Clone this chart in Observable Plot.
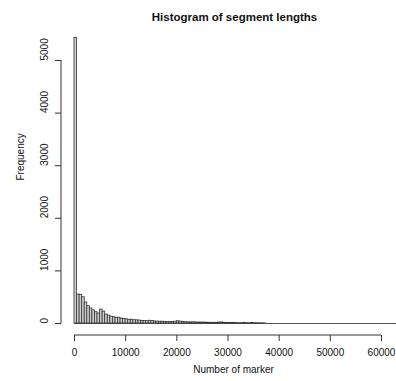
<!DOCTYPE html>
<html><head><meta charset="utf-8">
<script src="https://cdn.jsdelivr.net/npm/d3@7"></script>
<script src="https://cdn.jsdelivr.net/npm/@observablehq/plot@0.6"></script>
<style>body{margin:0;background:#fff} svg{display:block}</style>
</head><body><div id="chart"></div>
<script>
const title = "Histogram of segment lengths";
const xLabel = "Number of marker";
const yLabel = "Frequency";
const binWidth = 500;
const counts = [
  5430, 550, 545, 500, 400, 330, 285, 250, 215, 190,
  265, 225, 170, 150, 130, 120, 105, 110, 92, 85,
  78, 70, 72, 62, 60, 56, 50, 48, 44, 52,
  46, 38, 36, 33, 34, 30, 28, 26, 30, 34,
  44, 36, 28, 24, 22, 20, 24, 19, 18, 16,
  18, 15, 14, 13, 12, 13, 16, 20, 14, 11,
  10, 9, 8, 7, 6, 6, 10, 6, 4, 8,
  5, 4, 3, 2, 1, 0, 0, 0, 0, 0,
  0, 0, 0, 0, 0, 0, 0, 0, 0, 0,
  0, 0, 0, 0, 0, 0, 0, 0, 0, 0,
  0, 0, 0, 0, 0, 0, 0, 0, 0, 0,
  0, 0, 0, 0, 0, 0, 0, 0, 0, 0,
  0, 0, 0, 0, 0, 0, 1
];
const xTicks = [0, 10000, 20000, 30000, 40000, 50000, 60000];
const yTicks = [0, 1000, 2000, 3000, 4000, 5000];

const bins = counts.map((c, i) => ({x0: i * binWidth, x1: (i + 1) * binWidth, count: c}));
const lastEdge = bins[bins.length - 1].x1;

const W = 396, H = 381;
const mL = 61, mR = 0, mT = 0, mB = 46;
const font = "'Liberation Sans', Arial, Helvetica, sans-serif";
const ink = "#111111";

const chart = Plot.plot({
  width: W, height: H,
  marginLeft: mL, marginRight: mR, marginTop: mT, marginBottom: mB,
  style: {fontFamily: font, fontSize: "10px", color: ink, background: "#fff", overflow: "hidden"},
  x: {domain: [0, 60000], range: [74, 381]},
  y: {domain: [0, 5000], range: [323, 60]},
  marks: [
    Plot.ruleY([0], {x1: 0, x2: lastEdge, stroke: "#555", strokeWidth: 1}),
    Plot.rectY(bins.filter(d => d.count > 0), {x1: "x0", x2: "x1", y: "count", fill: "#cfcfcf", stroke: "#333", strokeWidth: 0.8, inset: 0}),
    Plot.axisX({ticks: xTicks, tickSize: 6, tickPadding: 7, tickFormat: d3.format("d"), label: null, stroke: "#333", fill: ink, fontSize: 10}),
    Plot.axisY({ticks: yTicks, tickSize: 6, tickFormat: () => "", label: null, stroke: "#333"}),
    Plot.text(yTicks, {y: d => d, text: d => String(d), frameAnchor: "left", dx: -17, rotate: -90, fontSize: 10, fill: ink}),
    Plot.text([title], {frameAnchor: "top", dx: 5.5, dy: 20, lineAnchor: "bottom", fontSize: 11.5, fontWeight: "bold", fill: ink}),
    Plot.text([xLabel], {frameAnchor: "bottom", dx: 4.5, dy: 37, lineAnchor: "bottom", fontSize: 10, fill: ink}),
    Plot.text([yLabel], {frameAnchor: "left", dx: -41, dy: 12.5, rotate: -90, fontSize: 10, fill: ink})
  ]
});

// R-style axis lines spanning first to last tick, positioned through Plot's scales
const sx = chart.scale("x"), sy = chart.scale("y");
const svg = d3.select(chart);
svg.append("line")
  .attr("x1", sx.apply(xTicks[0])).attr("x2", sx.apply(xTicks[xTicks.length - 1]))
  .attr("y1", H - mB).attr("y2", H - mB)
  .attr("stroke", "#333");
svg.append("line")
  .attr("x1", mL).attr("x2", mL)
  .attr("y1", sy.apply(yTicks[0])).attr("y2", sy.apply(yTicks[yTicks.length - 1]))
  .attr("stroke", "#333");

document.getElementById("chart").append(chart);
</script>
</body></html>
